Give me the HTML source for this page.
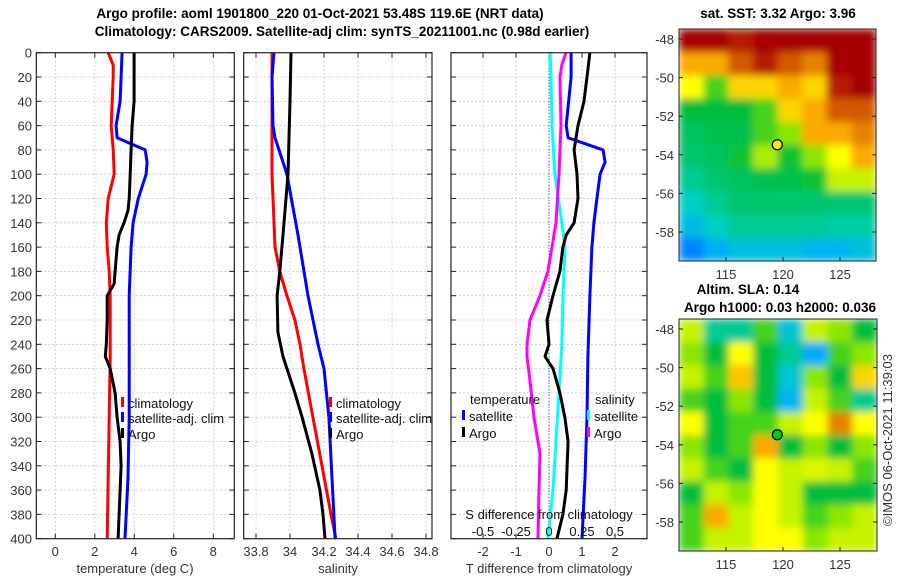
<!DOCTYPE html>
<html><head><meta charset="utf-8">
<style>
body{margin:0;background:#fff;}
svg{display:block;font-family:"Liberation Sans","DejaVu Sans",sans-serif;}
.tk{font-size:13px;fill:#333;}
.tt{font-size:13.5px;font-weight:bold;fill:#000;}
.lg{font-size:13px;fill:#111;}
</style></head><body>
<svg id="c" width="900" height="580" xmlns="http://www.w3.org/2000/svg">
<defs>
<filter id="blur" x="0" y="0" width="1" height="1" filterUnits="objectBoundingBox"><feGaussianBlur stdDeviation="4" edgeMode="duplicate"/></filter>
</defs>
<text class="tt" x="320" y="18" text-anchor="middle">Argo profile: aoml 1901800_220 01-Oct-2021 53.48S 119.6E (NRT data)</text>
<text class="tt" x="342" y="36" text-anchor="middle">Climatology: CARS2009. Satellite-adj clim: synTS_20211001.nc (0.98d earlier)</text>
<text class="tt" x="778" y="18" text-anchor="middle">sat. SST: 3.32 Argo: 3.96</text>
<text class="tt" x="748" y="294" text-anchor="middle">Altim. SLA: 0.14</text>
<text class="tt" x="780" y="312" text-anchor="middle">Argo h1000: 0.03 h2000: 0.036</text>
<text class="tk" transform="translate(892,440) rotate(-90)" text-anchor="middle">©IMOS 06-Oct-2021 11:39:03</text>
</svg>
<script>
// ---- data ----
const depthTicks=[0,20,40,60,80,100,120,140,160,180,200,220,240,260,280,300,320,340,360,380,400];
const tempTicks=[0,2,4,6,8];
const salTicks=[33.8,34,34.2,34.4,34.6,34.8];
const salTickLabels=["33.8","34","34.2","34.4","34.6","34.8"];
const tdiffTicks=[-2,-1,0,1,2];
const sdiffTicks=[-0.5,-0.25,0,0.25,0.5];
const sdiffTickLabels=["-0.5","-0.25","0","0.25","0.5"];

const climTDepth=[0,10,20,60,80,100,120,140,160,180,200,250,300,350,400];
const climT=[2.68,2.93,2.93,2.83,2.93,2.98,2.68,2.58,2.63,2.73,2.78,2.78,2.73,2.68,2.63];
const satTDepth=[0,20,40,60,70,80,90,100,120,140,160,200,250,300,350,400];
const satT=[3.38,3.33,3.28,3.08,3.13,4.55,4.65,4.6,4.2,3.94,3.84,3.74,3.74,3.74,3.68,3.53];
const argoTDepth=[0,40,60,80,100,120,130,140,150,160,180,190,200,220,240,250,260,280,300,320,340,360,380,400];
const argoT=[3.99,3.99,3.89,3.84,3.79,3.74,3.68,3.48,3.23,3.13,3.03,2.98,2.63,2.63,2.58,2.53,2.78,3.03,3.13,3.28,3.33,3.28,3.23,3.18];

const climSDepth=[0,40,100,120,160,180,200,220,240,260,300,340,380,400];
const climS=[33.894,33.894,33.894,33.9,33.912,33.94,33.982,34.029,34.059,34.082,34.135,34.188,34.241,34.27];
const satSDepth=[0,20,60,70,80,100,150,200,240,260,300,350,400];
const satS=[33.906,33.894,33.9,33.912,33.935,33.982,34.047,34.106,34.165,34.2,34.229,34.247,34.265];
const argoSDepth=[0,40,100,150,180,200,230,250,280,300,330,360,380,400];
const argoS=[34.006,34.0,33.988,33.959,33.94,33.924,33.929,33.959,34.029,34.071,34.129,34.176,34.194,34.206];

const dTsatDepth=[0,20,60,70,80,90,100,120,140,160,200,250,300,350,400];
const dTsat=[0.67,0.67,0.52,0.58,1.64,1.7,1.55,1.45,1.36,1.3,1.24,1.18,1.15,1.09,1.0];
const dTargoDepth=[0,20,40,60,80,100,120,140,150,160,180,200,220,240,250,260,280,300,320,340,360,380,400];
const dTargo=[1.24,1.15,1.06,0.88,0.76,0.85,0.88,0.76,0.52,0.42,0.33,0.12,-0.06,0,-0.12,0.12,0.33,0.48,0.58,0.55,0.52,0.42,0.24];
const dSsatDepth=[0,20,60,100,140,160,200,240,280,320,360,400];
const dSsat=[0.008,0.015,0.023,0.045,0.098,0.121,0.106,0.098,0.076,0.053,0.03,-0.008];
const dSargoDepth=[0,10,20,60,100,140,160,180,200,220,240,250,270,300,330,360,400];
const dSargo=[0.129,0.098,0.083,0.091,0.076,0.053,0.023,-0.008,-0.068,-0.144,-0.167,-0.167,-0.144,-0.114,-0.068,-0.076,-0.083];

const sstGrid=[
[0.95,0.95,0.9,0.95,0.95,0.95,0.95,0.95],
[0.75,0.75,0.85,0.9,0.85,0.8,0.95,0.95],
[0.65,0.5,0.7,0.7,0.75,0.7,0.9,0.95],
[0.45,0.45,0.45,0.5,0.7,0.75,0.85,0.85],
[0.43,0.44,0.44,0.5,0.55,0.75,0.75,0.8],
[0.42,0.43,0.46,0.58,0.46,0.55,0.65,0.75],
[0.4,0.42,0.43,0.44,0.44,0.46,0.6,0.6],
[0.37,0.4,0.42,0.42,0.42,0.42,0.42,0.42],
[0.33,0.37,0.4,0.4,0.4,0.4,0.39,0.39],
[0.26,0.31,0.34,0.34,0.34,0.32,0.32,0.34]];
const slaGrid=[
[0.6,0.4,0.4,0.5,0.35,0.6,0.55,0.45],
[0.55,0.45,0.65,0.45,0.4,0.3,0.5,0.55],
[0.6,0.5,0.72,0.45,0.35,0.55,0.45,0.7],
[0.5,0.45,0.55,0.45,0.32,0.6,0.5,0.4],
[0.65,0.45,0.5,0.5,0.6,0.65,0.8,0.65],
[0.55,0.45,0.5,0.75,0.45,0.55,0.45,0.55],
[0.6,0.5,0.45,0.65,0.6,0.62,0.6,0.5],
[0.45,0.6,0.55,0.65,0.6,0.45,0.45,0.45],
[0.5,0.75,0.6,0.65,0.6,0.5,0.55,0.6],
[0.5,0.6,0.6,0.65,0.65,0.55,0.6,0.6]];
const lonTicks=[115,120,125];
const latTicks=[-48,-50,-52,-54,-56,-58];
const argoLon=119.5, argoLat=-53.48;

// ---- drawing ----
const svg=document.getElementById('c');
const NS='http://www.w3.org/2000/svg';
function mk(tag,attrs,parent){const e=document.createElementNS(NS,tag);for(const k in attrs)e.setAttribute(k,attrs[k]);(parent||svg).appendChild(e);return e;}
const yTop=52.7,yBot=538.7;
const yD=d=>yTop+(yBot-yTop)*d/400;

function panel(name,x0,x1,xf,xt,xl){
  const g=mk('g',{});
  
  
  xt.forEach((v,i)=>{const x=xf(v);
    const l=mk('line',{x1:x,x2:x,y1:yTop,y2:yBot,stroke:'#b8c4e0','stroke-width':0.8,'stroke-dasharray':'2,2'},g);
    
    mk('line',{x1:x,x2:x,y1:yBot,y2:yBot-5,stroke:'#222'},g);
    mk('line',{x1:x,x2:x,y1:yTop,y2:yTop+5,stroke:'#222'},g);
    const t=mk('text',{x:x,y:556,'text-anchor':'middle',class:'tk'},g);t.textContent=xl[i];
    
  });
  depthTicks.forEach(d=>{const y=yD(d);
    if(d>0&&d<400){const l=mk('line',{x1:x0,x2:x1,y1:y,y2:y,stroke:'#b8c4e0','stroke-width':0.8,'stroke-dasharray':'2,2'},g);
    }
    mk('line',{x1:x1,x2:x1-5,y1:y,y2:y,stroke:'#222'},g);
    mk('line',{x1:x0,x2:x0+5,y1:y,y2:y,stroke:'#222'},g);
  });
  return g;
}
function box(g,x0,x1){const r=mk('rect',{x:x0,y:yTop,width:x1-x0,height:yBot-yTop,fill:'none',stroke:'#222','stroke-width':1.2},g);
  }
function line(g,name,dep,vals,xf,col){
  const p=mk('polyline',{points:dep.map((d,i)=>xf(vals[i]).toFixed(1)+','+yD(d).toFixed(1)).join(' '),fill:'none',stroke:col,'stroke-width':3,'stroke-linejoin':'round'},g);
  
}
function legend(g,name,x,y,col,label){
  const e=mk('g',{},g);
  
  mk('rect',{x:x,y:y-11,width:3,height:10,fill:col},e);
  const t=mk('text',{x:x+7,y:y,class:'lg'},e);t.textContent=label;
}
function label(text,x,y,name,cls,anchor){const t=mk('text',{x:x,y:y,'text-anchor':anchor||'middle',class:cls||'tk'});t.textContent=text;
  }

depthTicks.forEach(d=>{const t=mk('text',{x:32,y:yD(d)+5,'text-anchor':'end',class:'tk'});t.textContent=d;
  });

const xT=v=>55.3+v*19.75;
const p1=panel('temperature-panel',36.3,234.3,xT,tempTicks,tempTicks.map(String));
line(p1,'clim-temperature-line',climTDepth,climT,xT,'#ff0000');
line(p1,'sat-adj-temperature-line',satTDepth,satT,xT,'#0000ff');
line(p1,'argo-temperature-line',argoTDepth,argoT,xT,'#000000');
box(p1,36.3,234.3);
legend(p1,'legend-climatology',121,408,'#ff0000','climatology');
legend(p1,'legend-satellite-adj',121,423,'#0000ff','satellite-adj. clim');
legend(p1,'legend-argo',121,439,'#000000','Argo');
label('temperature (deg C)',135,573,'temperature-axis-title');

const xS=v=>290+(v-34)*170;
const p2=panel('salinity-panel',243.7,432,xS,salTicks,salTickLabels);
line(p2,'clim-salinity-line',climSDepth,climS,xS,'#ff0000');
line(p2,'sat-adj-salinity-line',satSDepth,satS,xS,'#0000ff');
line(p2,'argo-salinity-line',argoSDepth,argoS,xS,'#000000');
box(p2,243.7,432);
legend(p2,'legend-climatology-sal',329,408,'#ff0000','climatology');
legend(p2,'legend-satellite-adj-sal',329,423,'#0000ff','satellite-adj. clim');
legend(p2,'legend-argo-sal',329,439,'#000000','Argo');
label('salinity',338,573,'salinity-axis-title');

const xDT=v=>549+v*33;
const xDS=v=>549+v*132;
const p3=panel('difference-panel',451,647,xDT,tdiffTicks,tdiffTicks.map(String));
const zl=mk('line',{x1:549,x2:549,y1:yTop,y2:yBot,stroke:'#333','stroke-width':1,'stroke-dasharray':'1,2'},p3);

line(p3,'sat-temp-diff-line',dTsatDepth,dTsat,xDT,'#0000ff');
line(p3,'sat-sal-diff-line',dSsatDepth,dSsat,xDS,'#00ffff');
line(p3,'argo-sal-diff-line',dSargoDepth,dSargo,xDS,'#ff00ff');
line(p3,'argo-temp-diff-line',dTargoDepth,dTargo,xDT,'#000000');
box(p3,451,647);
label('temperature',470,404,'legend-temperature-header','lg','start');
legend(p3,'legend-temp-satellite',462,421,'#0000ff','satellite');
legend(p3,'legend-temp-argo',462,438,'#000000','Argo');
label('salinity',595,404,'legend-salinity-header','lg','start');
legend(p3,'legend-sal-satellite',587,421,'#00ffff','satellite');
legend(p3,'legend-sal-argo',587,438,'#ff00ff','Argo');
label('S difference from climatology',549,519,'s-diff-axis-title','lg');
sdiffTicks.forEach((v,i)=>label(sdiffTickLabels[i],xDS(v),536,'s-diff-tick-label','lg'));
label('T difference from climatology',549,573,'t-diff-axis-title');

const jetStops=[[0,[0,0,140]],[0.125,[0,0,255]],[0.3,[0,170,255]],[0.375,[0,210,190]],[0.45,[0,190,60]],[0.55,[140,230,0]],[0.65,[255,255,0]],[0.75,[250,170,0]],[0.85,[210,90,0]],[0.92,[170,0,0]],[1,[160,0,0]]];
function jet(v){for(let i=1;i<jetStops.length;i++){if(v<=jetStops[i][0]){const a=jetStops[i-1],b=jetStops[i],t=(v-a[0])/(b[0]-a[0]);
  return 'rgb('+a[1].map((c,k)=>Math.round(c+(b[1][k]-c)*t)).join(',')+')';}}return 'rgb(160,0,0)';}

function map(name,grid,x0,x1,y0,y1,latTop,latScale,circleFill){
  const g=mk('g',{});
  
  const cg=mk('g',{filter:'url(#blur)'},g);
  const rows=grid.length,cols=grid[0].length,cw=(x1-x0)/cols,ch=(y1-y0)/rows;
  grid.forEach((row,r)=>row.forEach((v,c)=>{
    const cell=mk('rect',{x:x0+c*cw,y:y0+r*ch,width:cw+0.5,height:ch+0.5,fill:jet(v)},cg);
    
  }));
  const lonX=l=>783+(l-120)*11.4;
  const latY=l=>latTop+(-48-l)*latScale;
  mk('rect',{x:x0,y:y0,width:x1-x0,height:y1-y0,fill:'none',stroke:'#222','stroke-width':1},g);
  lonTicks.forEach(l=>{const x=lonX(l);mk('line',{x1:x,x2:x,y1:y1,y2:y1-4,stroke:'#222'},g);
    const t=mk('text',{x:x,y:y1+18,'text-anchor':'middle',class:'tk'},g);t.textContent=l;
    });
  latTicks.forEach(l=>{const y=latY(l);mk('line',{x1:x0,x2:x0+4,y1:y,y2:y,stroke:'#222'},g);mk('line',{x1:x1,x2:x1-4,y1:y,y2:y,stroke:'#222'},g);
    const t=mk('text',{x:x0-5,y:y+5,'text-anchor':'end',class:'tk'},g);t.textContent=l;
    });
  const c=mk('circle',{cx:lonX(argoLon),cy:latY(argoLat),r:5,fill:circleFill,stroke:'#000','stroke-width':1.2},g);
  
}
map('sst-map',sstGrid,679,876,29,261,39,19.3,'#ffee00');
map('sla-map',slaGrid,679,877,319,551,329,19.3,'#00cc00');
</script>
</body></html>
